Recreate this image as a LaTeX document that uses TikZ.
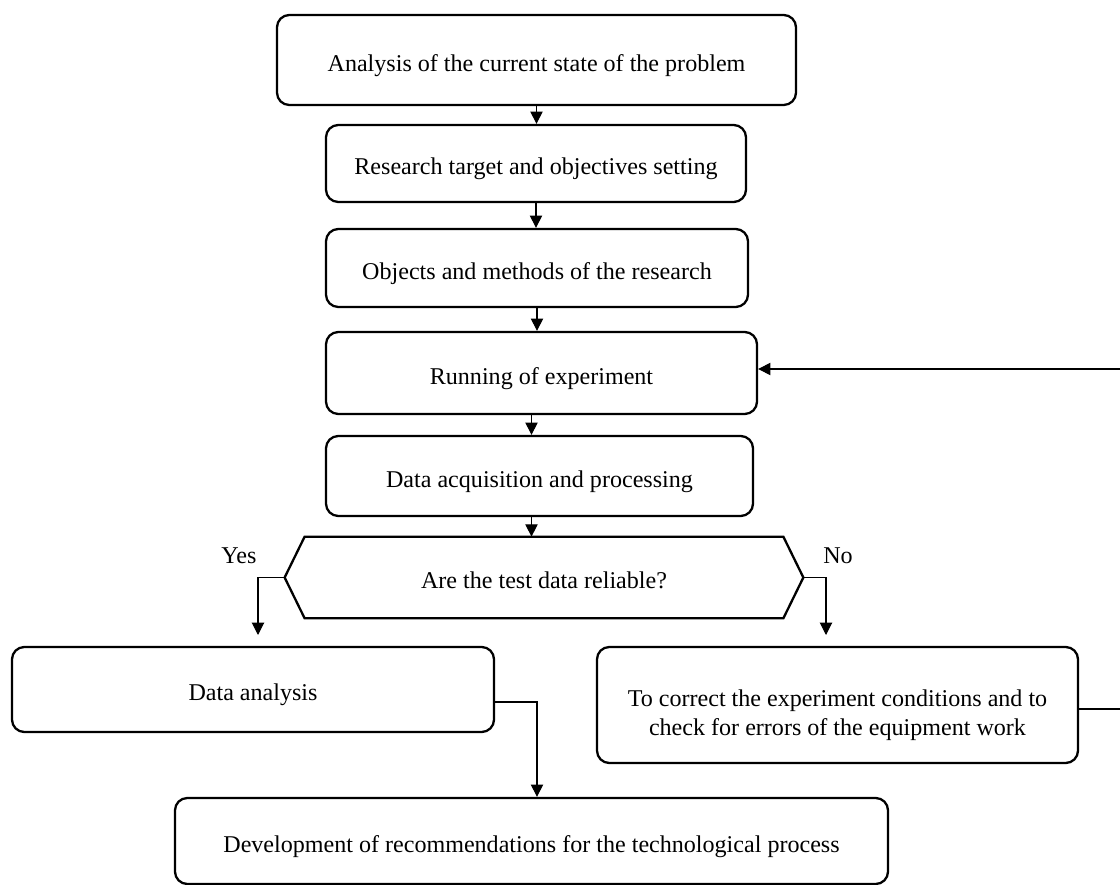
\documentclass[tikz,border=0pt]{standalone}
\usepackage{fontspec}
\setmainfont{Liberation Serif}
\usetikzlibrary{arrows.meta}
\begin{document}
\begin{tikzpicture}[x=0.02cm,y=-0.02cm,
  txt/.style={font=\fontsize{13.7}{16.4}\selectfont},
  low/.style={text height=15pt, text depth=2.3pt},
  box/.style 2 args={draw, line width=1.3pt, rounded corners=7pt, txt,
    minimum width=#1*0.02cm, minimum height=#2*0.02cm, inner sep=0pt, align=center},
  conn/.style={line width=0.6pt, -{Triangle[length=7pt,width=7pt]}},
  ]
\useasboundingbox (0,0) rectangle (1120,885);
\clip (0,0) rectangle (1120,885);

\node[box={519}{90}, low] (b1) at (536.5,60) {Analysis of the current state of the problem};
\node[box={420}{77}, low] (b2) at (536,163.5) {Research target and objectives setting};
\node[box={422}{78}, low] (b3) at (537,268) {Objects and methods of the research};
\node[box={431}{82}, low] (b4) at (541.5,373) {Running of experiment};
\node[box={427}{80}, low] (b5) at (539.5,476) {Data acquisition and processing};

\node[txt, low, minimum width=478*0.02cm, minimum height=81*0.02cm, inner sep=0pt] (hex) at (544,577.5) {Are the test data reliable?};
\coordinate (hl) at ([xshift=-0.4cm]hex.west);
\coordinate (hr) at ([xshift=0.4cm]hex.east);
\draw[line width=1.3pt, line join=miter] (hl) -- (hex.north west) -- (hex.north east) -- (hr) -- (hex.south east) -- (hex.south west) -- cycle;

\node[box={482}{85}, low] (da) at (253,689.5) {Data analysis};
\node[box={481}{116}] (corr) at (837.5,705) {};
\node[txt, align=center, inner sep=0pt] (corrt) at ([yshift=-0.2cm]corr.center) {To correct the experiment conditions and to\\check for errors of the equipment work};
\node[box={713}{86}, low] (dev) at (531.5,841) {Development of recommendations for the technological process};

\node[txt] (yes) at (239,556) {Yes};
\node[txt] (no) at (838,556) {No};

\draw[conn] (b1.south) -- (b1.south |- b2.north);
\draw[conn] (b2.south) -- (b2.south |- b3.north);
\draw[conn] (b3.south) -- (b3.south |- b4.north);
\draw[conn] ([xshift=-0.2cm]b4.south) -- ([xshift=-0.2cm]b4.south |- b5.north);
\draw[conn] ([xshift=-0.16cm]b5.south) -- ([xshift=-0.16cm]b5.south |- hex.north);

\coordinate (yesend) at (258,635);
\coordinate (noend) at (826,635);
\draw[conn] (hl) -| (yesend);
\draw[conn] (hr) -| (noend);

\coordinate (xdev) at (537,0);
\draw[conn] ([yshift=-0.25cm]da.east) -| (xdev |- dev.north);

\coordinate (far) at (1150,0);
\coordinate (cout) at ([yshift=-0.08cm]corr.east);
\coordinate (rin) at ([yshift=0.08cm]b4.east);
\draw[conn] (cout) -- (far |- cout) |- (rin);
\end{tikzpicture}
\end{document}
